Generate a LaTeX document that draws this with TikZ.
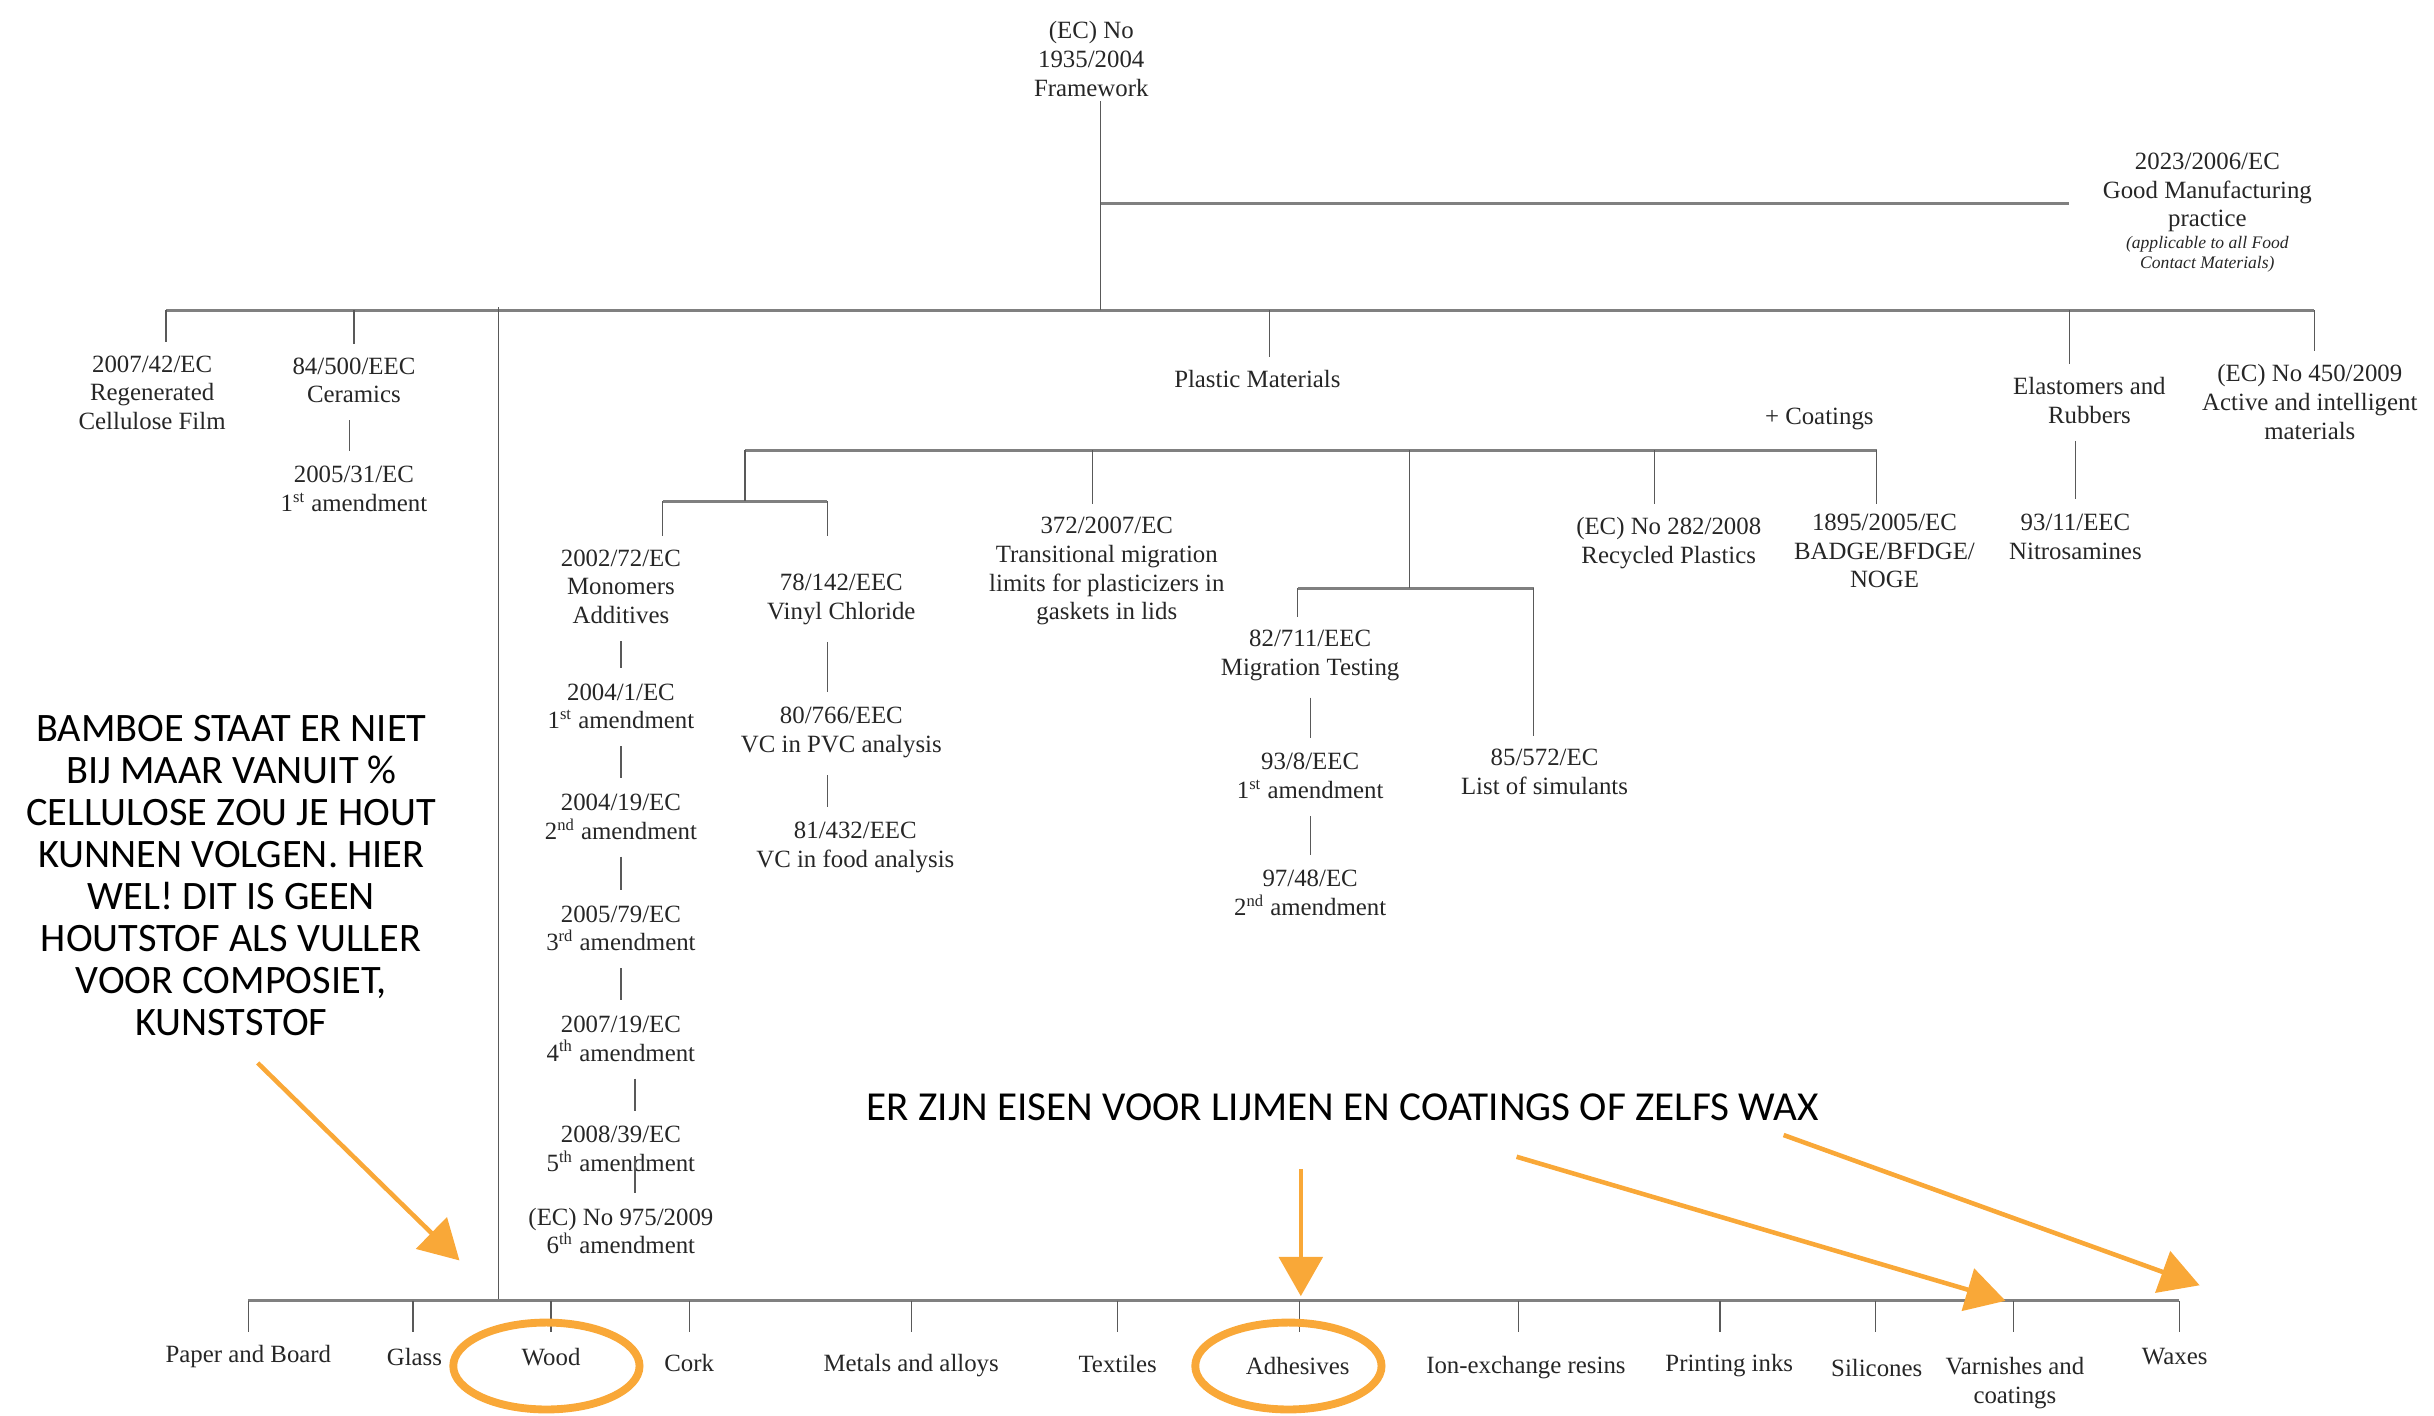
\documentclass[tikz,border=0pt]{standalone}
\usepackage{fontspec}
\setmainfont{Liberation Serif}
\newfontfamily\notefont{Carlito}
\usetikzlibrary{arrows.meta}
\definecolor{hilite}{RGB}{249,168,56}
\tikzset{every picture/.style={line width=0.75pt}}
\tikzset{
  lab/.style={align=center, font=\fontsize{12}{13.9}\selectfont, inner sep=2pt, text=black!85},
  tiny/.style={align=center, font=\fontsize{8.5}{9.75}\selectfont\itshape, inner sep=1pt, text=black!85},
  note/.style={align=center, font=\notefont\fontsize{19.5}{20.3}\selectfont, inner sep=0pt},
  conn/.style={draw=black!65, line width=0.6pt},
  link/.style={conn, shorten <=6pt, shorten >=5pt},
  bar/.style={draw=black!50, line width=1.4pt},
  pointer/.style={draw=hilite, line width=2.2pt, -{Triangle[length=19pt,width=21pt]}},
  ring/.style={draw=hilite, line width=3.8pt},
}

\begin{document}
\begin{tikzpicture}[x=0.75pt,y=0.75pt,yscale=-1,xscale=1]
\useasboundingbox (0,0) rectangle (1568,912);

% Text Node
\node[lab] (fw) at (703,38) {(EC) No\\1935/2004\\Framework};
\node[lab] (gmp) at (1422,124) {2023/2006/EC\\Good Manufacturing\\practice};
\node[tiny] (gmpnote) at (1422,164) {(applicable to all Food\\Contact Materials)};
% Text Node
\node[lab] (reg) at (98,253) {2007/42/EC\\Regenerated\\Cellulose Film};
\node[lab] (cer) at (228,245) {84/500/EEC\\Ceramics};
\node[lab] (cam) at (228,315) {2005/31/EC\\1\textsuperscript{st} amendment};
\node[lab] (plas) at (810,244) {Plastic Materials};
\node[lab] (coat) at (1172,270) {+ Coatings};
\node[lab] (elas) at (1346,258) {Elastomers and\\Rubbers};
\node[lab] (nitro) at (1337,346) {93/11/EEC\\Nitrosamines};
\node[lab] (act) at (1488,259) {(EC) No 450/2009\\Active and intelligent\\materials};
% Text Node
\node[lab] (mono) at (400,378) {2002/72/EC\\Monomers\\Additives};
\node[lab] (a1) at (400,455) {2004/1/EC\\1\textsuperscript{st} amendment};
\node[lab] (a2) at (400,526) {2004/19/EC\\2\textsuperscript{nd} amendment};
\node[lab] (a3) at (400,598) {2005/79/EC\\3\textsuperscript{rd} amendment};
\node[lab] (a4) at (400,669) {2007/19/EC\\4\textsuperscript{th} amendment};
\node[lab] (a5) at (400,740) {2008/39/EC\\5\textsuperscript{th} amendment};
\node[lab] (a6) at (400,793) {(EC) No 975/2009\\6\textsuperscript{th} amendment};
\node[lab] (vinyl) at (542,386) {78/142/EEC\\Vinyl Chloride};
\node[lab] (vcpvc) at (542,472) {80/766/EEC\\VC in PVC analysis};
\node[lab] (vcfood) at (551,546) {81/432/EEC\\VC in food analysis};
\node[lab] (trans) at (713,368) {372/2007/EC\\Transitional migration\\limits for plasticizers in\\gaskets in lids};
\node[lab] (migt) at (844,422) {82/711/EEC\\Migration Testing};
\node[lab] (m1) at (844,500) {93/8/EEC\\1\textsuperscript{st} amendment};
\node[lab] (m2) at (844,575) {97/48/EC\\2\textsuperscript{nd} amendment};
\node[lab] (sim) at (995,497) {85/572/EC\\List of simulants};
\node[lab] (rec) at (1075,350) {(EC) No 282/2008\\Recycled Plastics};
\node[lab] (badge) at (1214,355) {1895/2005/EC\\BADGE/BFDGE/\\NOGE};
% Text Node
\foreach \n/\x/\y/\t in {paper/160/874/Paper and Board, glass/267/874/Glass, wood/355/874/Wood,
  cork/444/878/Cork, metal/587/880/Metals and alloys, textile/720/879/Textiles,
  adh/836/880/Adhesives, ion/983/881/Ion-exchange resins, print/1114/880/Printing inks,
  sil/1209/881/Silicones, varn/1298/891/{Varnishes and\\coatings}, wax/1401/874/Waxes}
  \node[lab] (\n) at (\x,\y) {\t};

% Text Node
\node[note] (note1) at (149,564) {BAMBOE STAAT ER NIET\\BIJ MAAR VANUIT \%\\CELLULOSE ZOU JE HOUT\\KUNNEN VOLGEN. HIER\\WEL! DIT IS GEEN\\HOUTSTOF ALS VULLER\\VOOR COMPOSIET,\\KUNSTSTOF};
\node[note, font=\notefont\fontsize{19.9}{20.3}\selectfont] (note2) at (865,713) {ER ZIJN EISEN VOOR LIJMEN EN COATINGS OF ZELFS WAX};

%Straight Lines
\coordinate (fwj) at (709,200);
\coordinate (gj) at (709,131);
\coordinate (bb) at (160,838);
\draw[bar] (107,200) -- (1491,200);
\draw[conn] (fwj) -- (fwj |- fw.south);
\draw[bar, shorten >=14pt] (gj) -- (gmp.west |- gj);
\foreach \x/\n in {107/reg, 228/cer, 818/plas, 1333/elas, 1491/act}
  \draw[conn, shorten >=4pt] (\x,200) -- (\x,200 |- \n.north);
\draw[conn] (321,198) -- (321,0 |- bb);
\draw[link] (225,0 |- cer.south) -- (225,0 |- cam.north);
\draw[link] (1337,0 |- elas.south) -- (1337,0 |- nitro.north);

%Straight Lines
\draw[bar] (480,290) -- (1209,290);
\draw[bar] (427,323) -- (533,323);
\draw[bar] (836,379) -- (988,379);
\draw[conn] (480,290) -- (480,323);
\draw[conn] (908,290) -- (908,379);
\foreach \x in {427,533}
  \draw[conn, shorten >=4pt] (\x,323) -- (\x,323 |- mono.north);
\foreach \x/\n in {704/trans, 1066/rec, 1209/badge}
  \draw[conn, shorten >=4pt] (\x,290) -- (\x,290 |- rec.north);
\draw[conn, shorten >=4pt] (836,379) -- (836,379 |- migt.north);
\draw[conn, shorten >=4pt] (988,379) -- (988,379 |- sim.north);

%Straight Lines
\draw[link] (mono) -- (a1);
\draw[link] (a1) -- (a2);
\draw[link] (a2) -- (a3);
\draw[link] (a3) -- (a4);
\draw[link] (409,0 |- a4.south) -- (409,0 |- a5.north);
\draw[conn, shorten >=5pt] (409,745) -- (409,0 |- a6.north);
\draw[link] (533,0 |- vinyl.south) -- (533,0 |- vcpvc.north);
\draw[link] (533,0 |- vcpvc.south) -- (533,0 |- vcfood.north);
\draw[link] (migt) -- (m1);
\draw[link] (m1) -- (m2);

%Straight Lines
\draw[bar] (bb) -- (1404,838);
\foreach \x in {160,266,355,444,587,720,837,978,1108,1208,1297,1404}
  \draw[conn, shorten >=4pt] (\x,838) -- (\x,838 |- paper.north);

% Highlights
\draw[ring] ([shift={(-3,6)}]wood.center) ellipse [x radius=60, y radius=28];
\draw[ring] ([shift={(-6,0)}]adh.center) ellipse [x radius=60, y radius=28];
\coordinate (woodtip) at (296,812);
\coordinate (adhtip) at (838,835);
\coordinate (varntip) at (1292,838);
\coordinate (waxtip) at (1417,828);
\draw[pointer] ([shift={(17,17)}]note1.south) -- (woodtip);
\draw[pointer] ([shift={(-27,31)}]note2.south) -- (adhtip);
\draw[pointer] ([shift={(112,23)}]note2.south) -- (varntip);
\draw[pointer] ([shift={(284,9)}]note2.south) -- (waxtip);

\end{tikzpicture}
\end{document}
